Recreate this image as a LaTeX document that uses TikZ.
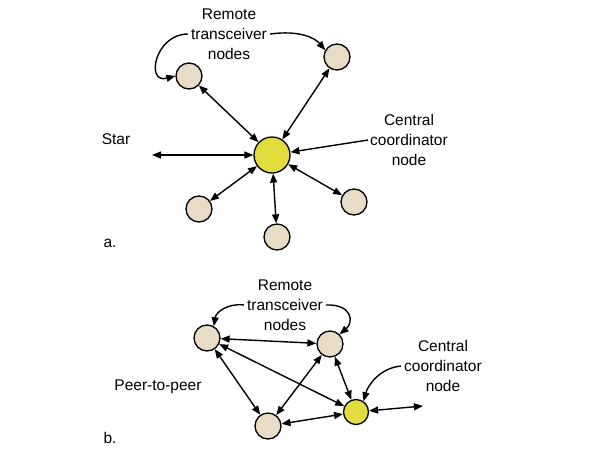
\documentclass[tikz,border=0pt]{standalone}
\usepackage{fontspec}
\setmainfont{Liberation Sans}
\usetikzlibrary{arrows.meta}
\definecolor{beige}{HTML}{E8DCC6}
\definecolor{yel}{HTML}{E3DC3E}
\begin{document}
\begin{tikzpicture}[x=1pt,y=-1pt,
  peer/.style={circle,draw=black,line width=1.3pt,fill=beige,minimum size=26pt,inner sep=0pt},
  hub/.style={circle,draw=black,line width=1.3pt,fill=yel,inner sep=0pt},
  lbl/.style={font=\fontsize{15.5}{20}\selectfont,align=center,inner sep=0pt},
  tip/.style={Triangle[length=9pt,width=7pt]},
  link/.style={{Triangle[length=9pt,width=7pt]}-{Triangle[length=9pt,width=7pt]},line width=1.4pt},
  arr/.style={-{Triangle[length=9pt,width=7pt]},line width=1.4pt}]
\useasboundingbox (0,0) rectangle (595,451);
% ---- part a: star ----
\node[hub,minimum size=36pt] (ca0) at (272,155) {};
\node[peer] (pa1) at (189,76) {};
\node[peer] (pa2) at (337,57) {};
\node[peer] (pa3) at (354,202) {};
\node[peer] (pa4) at (277,237) {};
\node[peer] (pa5) at (199,209) {};
\coordinate (fa) at (152,155);
\node[lbl] (ra) at (229,34) {Remote\\transceiver\\nodes};
\node[lbl] (ca) at (409,140) {Central\\coordinator\\node};
\node[lbl] (star) at (116,139) {Star};
\node[lbl] (la) at (110,243) {a.};
\draw[link] (ca0) -- (pa1);
\draw[link] (ca0) -- (pa2);
\draw[link] (ca0) -- (pa3);
\draw[link] (ca0) -- (pa4);
\draw[link] (ca0) -- (pa5);
\draw[link] (ca0) -- (fa);
\draw[arr] ([xshift=-3pt]ra.west) .. controls (155,34) and (145,84) .. (pa1.west);
\draw[arr] ([xshift=3pt]ra.east) .. controls (300,30) and (315,38) .. (pa2.150);
\draw[arr] ([xshift=-2pt]ca.west) -- (ca0);
% ---- part b: peer-to-peer ----
\node[peer] (pb1) at (207,338) {};
\node[peer] (pb2) at (330,344) {};
\node[peer] (pb3) at (268,426) {};
\node[hub,minimum size=25pt] (yb) at (356,412) {};
\coordinate (fb) at (423,406);
\node[lbl] (rb) at (285,305) {Remote\\transceiver\\nodes};
\node[lbl] (cb) at (443,366) {Central\\coordinator\\node};
\node[lbl] (peer) at (158,387) {Peer-to-peer};
\node[lbl] (lb) at (110,438) {b.};
\draw[link] (pb1) -- (pb2);
\draw[link] (pb1) -- (yb);
\draw[link] (pb1) -- (pb3);
\draw[link] (pb2) -- (pb3);
\draw[link] (pb2) -- (yb);
\draw[link] (pb3) -- (yb);
\draw[link] (yb) -- (fb);
\draw[arr] ([xshift=-3pt]rb.west) .. controls (228,303) and (216,312) .. (pb1.60);
\draw[arr] ([xshift=3pt]rb.east) .. controls (352,304) and (354,322) .. (pb2.45);
\draw[arr] ([xshift=-3pt]cb.west) .. controls (380,368) and (368,385) .. (yb.55);
\end{tikzpicture}
\end{document}
